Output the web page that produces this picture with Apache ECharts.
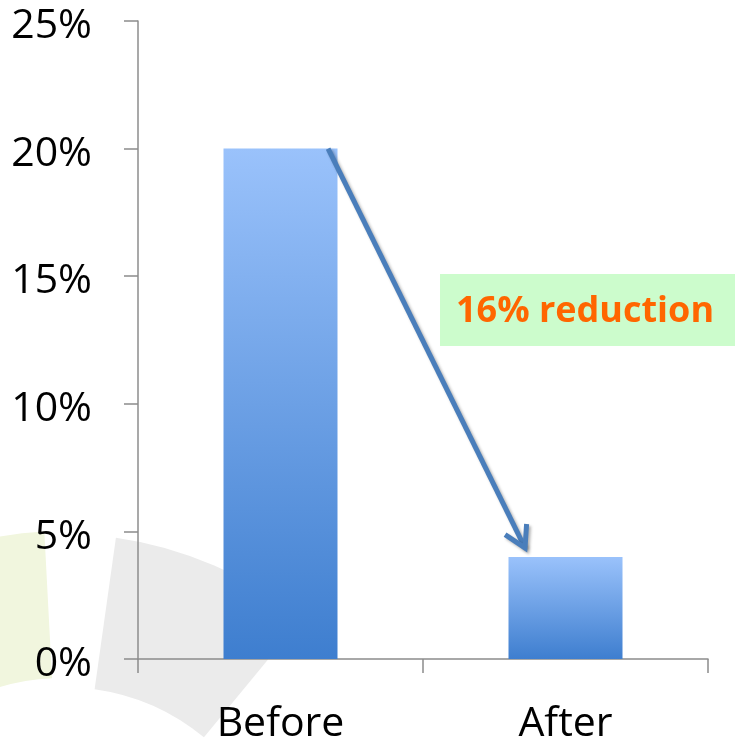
<!DOCTYPE html>
<html>
<head>
<meta charset="utf-8">
<script src="https://cdn.jsdelivr.net/npm/echarts@6/dist/echarts.min.js"></script>
<style>
  html, body { margin: 0; padding: 0; background: #fff; }
  #chart { width: 735px; height: 741px; }
</style>
</head>
<body>
<div id="chart"></div>
<script>
// Share of cases before and after the change (percent)
const categories = ['Before', 'After'];
const rates = [20, 4];
const yTicks = [0, 5, 10, 15, 20, 25];
const calloutText = '16% reduction';

const chart = echarts.init(document.getElementById('chart'), null, { renderer: 'canvas' });

const barGradient = new echarts.graphic.LinearGradient(0, 0, 0, 1, [
  { offset: 0, color: '#9ac2fb' },
  { offset: 1, color: '#3e7ecf' }
]);

// Faint ring-segment watermark behind the plot
const deg = d => d * Math.PI / 180;
const watermark = [
  {
    type: 'sector', z: -10, silent: true,
    shape: { cx: 64, cy: 907, r0: 220, r: 373, startAngle: deg(-82), endAngle: deg(-50.5), clockwise: true },
    style: { fill: '#ebebeb' }
  },
  {
    type: 'sector', z: -10, silent: true,
    shape: { cx: 64, cy: 907, r0: 229, r: 376, startAngle: deg(-125), endAngle: deg(-93), clockwise: true },
    style: { fill: '#f1f6de' }
  }
];

chart.setOption({
  animation: false,
  backgroundColor: '#ffffff',
  grid: { left: 138, right: 27, top: 21, bottom: 82, containLabel: false, outerBoundsMode: 'none' },
  xAxis: {
    type: 'category',
    data: categories,
    axisLine: { lineStyle: { color: '#8c8c8c', width: 1.5 } },
    axisTick: { show: true, length: 14, alignWithLabel: false, lineStyle: { color: '#8c8c8c', width: 1.5 } },
    axisLabel: { fontFamily: 'Open Sans', fontSize: 41, color: '#000', margin: 45 }
  },
  yAxis: {
    type: 'value',
    min: yTicks[0],
    max: yTicks[yTicks.length - 1],
    interval: yTicks[1] - yTicks[0],
    splitLine: { show: false },
    axisLine: { show: true, lineStyle: { color: '#8c8c8c', width: 1.5 } },
    axisTick: { show: true, length: 14, lineStyle: { color: '#8c8c8c', width: 1.5 } },
    axisLabel: {
      color: '#000', margin: 46,
      formatter: v => '{p|' + v + '%}',
      rich: {
        p: { fontFamily: 'Open Sans', fontSize: 41, color: '#000', padding: [11, 0, 0, 0] }
      }
    }
  },
  series: [{
    type: 'bar',
    data: rates,
    barWidth: '40%',
    itemStyle: {
      color: barGradient,
      shadowBlur: 4,
      shadowOffsetX: 2,
      shadowOffsetY: 1,
      shadowColor: 'rgba(0,0,0,0.3)'
    }
  }],
  graphic: watermark
});

// Arrow from the top of the first bar down to the second, plus the callout box
function drawAnnotations() {
  const band = chart.getModel().getComponent('xAxis', 0).axis.getBandWidth();
  const p0 = chart.convertToPixel({ seriesIndex: 0 }, [0, rates[0]]);
  const p1 = chart.convertToPixel({ seriesIndex: 0 }, [1, rates[1]]);
  const start = [p0[0] + band * 0.167, p0[1]];
  const end = [p1[0] - band * 0.142, p1[1] - 9];
  const ang = Math.atan2(end[1] - start[1], end[0] - start[0]);
  const headLen = 24, spread = deg(30);
  const wing1 = [end[0] - headLen * Math.cos(ang - spread), end[1] - headLen * Math.sin(ang - spread)];
  const wing2 = [end[0] - headLen * Math.cos(ang + spread), end[1] - headLen * Math.sin(ang + spread)];
  const arrowStyle = {
    stroke: '#4a7ebb', lineWidth: 5, fill: null, lineCap: 'butt', lineJoin: 'miter',
    shadowBlur: 3, shadowOffsetX: 2, shadowOffsetY: 2, shadowColor: 'rgba(0,0,0,0.3)'
  };
  chart.setOption({
    graphic: watermark.concat([
      { type: 'line', z: 50, silent: true, shape: { x1: start[0], y1: start[1], x2: end[0], y2: end[1] }, style: arrowStyle },
      { type: 'polyline', z: 50, silent: true, shape: { points: [wing1, end, wing2] }, style: arrowStyle },
      {
        type: 'rect', z: 40, silent: true,
        shape: { x: 440, y: 274, width: 300, height: 72 },
        style: { fill: '#ccfccc' }
      },
      {
        type: 'text', z: 41, silent: true,
        x: 585, y: 312,
        style: {
          text: calloutText, fill: '#ff6600',
          font: 'bold 36px "Open Sans"',
          align: 'center', verticalAlign: 'middle'
        }
      }
    ])
  }, { replaceMerge: ['graphic'] });
}
drawAnnotations();
</script>
</body>
</html>
